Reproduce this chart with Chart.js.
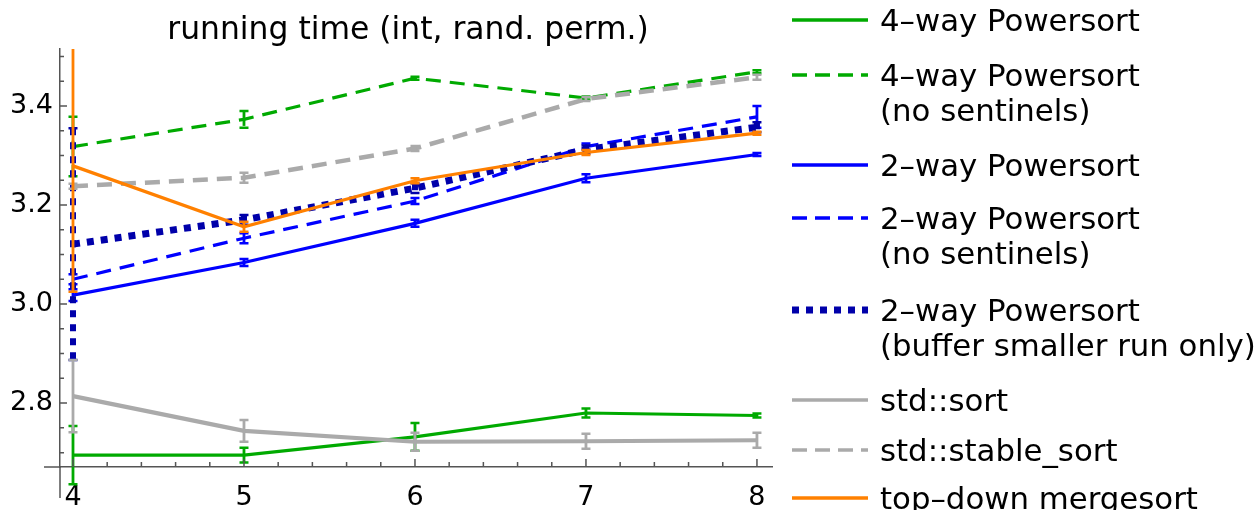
<!DOCTYPE html>
<html>
<head>
<meta charset="utf-8">
<script src="https://cdn.jsdelivr.net/npm/chart.js@4.4.1/dist/chart.umd.min.js"></script>
<style>
  body { margin: 0; background: #fff; font-family: "DejaVu Sans", sans-serif; }
  #wrap { position: relative; width: 1257px; height: 510px; overflow: hidden; }
  #title { position: absolute; left: 44px; width: 728px; top: 8px; text-align: center;
           font-size: 31.4px; line-height: 40px; color: #000; }
  .lgline { position: absolute; left: 792px; }
  .lgtext { position: absolute; left: 880px; font-size: 30.8px; line-height: 35px; color: #000; white-space: nowrap; }
</style>
</head>
<body>
<div id="wrap">
  <canvas id="chart" width="1257" height="510"></canvas>
  <div id="title">running time (int, rand. perm.)</div>
  <div id="legend"></div>
</div>
<script>
// x positions and tick labels
const xValues = [4, 5, 6, 7, 8];
const xTickLabels = [4, 5, 6, 7, 8];
const yTickLabels = [2.8, 3.0, 3.2, 3.4];

// series values, with error half-widths
const fourWay = [2.695, 2.695, 2.732, 2.780, 2.775];
const fourWayErr = [0.059, 0.015, 0.028, 0.009, 0.004];
const fourWayNoSent = [3.318, 3.373, 3.456, 3.416, 3.469];
const fourWayNoSentErr = [0.06, 0.017, 0.003, 0.003, 0.003];
const twoWay = [3.018, 3.084, 3.163, 3.254, 3.302];
const twoWayErr = [0.012, 0.007, 0.007, 0.008, 0.003];
const twoWayNoSent = [3.050, 3.133, 3.208, 3.318, 3.378];
const twoWayNoSentErr = [0.01, 0.01, 0.006, 0.006, 0.022];
const twoWayBuf = [3.121, 3.170, 3.234, 3.312, 3.357];
const twoWayBufErr = [0.234, 0.01, 0.01, 0.008, 0.01];
const stdSort = [2.814, 2.744, 2.722, 2.723, 2.725];
const stdSortErr = [0.073, 0.022, 0.018, 0.015, 0.015];
const stableSort = [3.238, 3.255, 3.314, 3.414, 3.458];
const stableSortErr = [0.005, 0.01, 0.005, 0.004, 0.005];
const topDown = [3.279, 3.156, 3.249, 3.306, 3.345];
const topDownErr = [0.254, 0.01, 0.005, 0.005, 0.003];

const GREEN = "#00aa00", BLUE = "#0000ff", DARKBLUE = "#0000aa", GREY = "#aaaaaa", ORANGE = "#ff8000";
const DASH = [15, 9], DOTS = [7, 7];

const series = [
  { label: ["4–way Powersort"], data: fourWay, err: fourWayErr, color: GREEN, dash: [], width: 3.2, ly: 20 },
  { label: ["4–way Powersort", "(no sentinels)"], data: fourWayNoSent, err: fourWayNoSentErr, color: GREEN, dash: DASH, width: 3.2, ly: 75 },
  { label: ["2–way Powersort"], data: twoWay, err: twoWayErr, color: BLUE, dash: [], width: 3.2, ly: 165 },
  { label: ["2–way Powersort", "(no sentinels)"], data: twoWayNoSent, err: twoWayNoSentErr, color: BLUE, dash: DASH, width: 3.2, ly: 218 },
  { label: ["2–way Powersort", "(buffer smaller run only)"], data: twoWayBuf, err: twoWayBufErr, color: DARKBLUE, dash: DOTS, width: 7, ly: 310 },
  { label: ["std::sort"], data: stdSort, err: stdSortErr, color: GREY, dash: [], width: 4.2, ly: 400 },
  { label: ["std::stable_sort"], data: stableSort, err: stableSortErr, color: GREY, dash: DASH, width: 4.5, ly: 450 },
  { label: ["top–down mergesort"], data: topDown, err: topDownErr, color: ORANGE, dash: [], width: 3.2, ly: 498 }
];

// error bars drawn right after each dataset, through the y scale
const errorBars = {
  id: "errorBars",
  afterDatasetDraw(chart, args) {
    const s = series[args.index];
    const { ctx, scales: { y } } = chart;
    ctx.save();
    ctx.beginPath();
    ctx.rect(44, chart.chartArea.top, 728, 498 - chart.chartArea.top);
    ctx.clip();
    ctx.strokeStyle = s.color;
    args.meta.data.forEach((pt, i) => {
      const top = y.getPixelForValue(s.data[i] + s.err[i]);
      const bot = y.getPixelForValue(s.data[i] - s.err[i]);
      ctx.lineWidth = s.dash === DOTS ? 6 : 2.8;
      ctx.setLineDash(s.dash);
      ctx.beginPath();
      ctx.moveTo(pt.x, top);
      ctx.lineTo(pt.x, bot);
      ctx.stroke();
      ctx.setLineDash([]);
      ctx.lineWidth = 2.5;
      ctx.beginPath();
      ctx.moveTo(pt.x - 4.5, top); ctx.lineTo(pt.x + 4.5, top);
      ctx.moveTo(pt.x - 4.5, bot); ctx.lineTo(pt.x + 4.5, bot);
      ctx.stroke();
    });
    ctx.restore();
  }
};

// inward tick marks plus the axis parts that run past the plot box
const axisMarks = {
  id: "axisMarks",
  afterDraw(chart) {
    const { ctx, chartArea: a, scales: { x, y } } = chart;
    ctx.save();
    ctx.strokeStyle = "#555";
    ctx.lineWidth = 1.5;
    ctx.beginPath();
    ctx.moveTo(44, a.bottom); ctx.lineTo(a.left, a.bottom);
    ctx.moveTo(a.left, a.bottom); ctx.lineTo(a.left, 498);
    for (let k = 20; k <= 40; k++) {
      const px = x.getPixelForValue(k / 5);
      const len = k % 5 === 0 ? 8 : 5;
      ctx.moveTo(px, a.bottom); ctx.lineTo(px, a.bottom - len);
    }
    for (let k = 54; k <= 70; k++) {
      const py = y.getPixelForValue(k / 20);
      const len = k % 4 === 0 ? 7 : 4;
      ctx.moveTo(a.left, py); ctx.lineTo(a.left + len, py);
    }
    ctx.stroke();
    ctx.restore();
  }
};

const ctx = document.getElementById("chart").getContext("2d");
new Chart(ctx, {
  type: "line",
  data: {
    datasets: series.map((s, i) => ({
      label: s.label.join(" "),
      data: xValues.map((xv, j) => ({ x: xv, y: s.data[j] })),
      borderColor: s.color,
      borderWidth: s.width,
      borderDash: s.dash,
      borderCapStyle: "butt",
      pointRadius: 0,
      tension: 0,
      fill: false,
      order: series.length - i
    }))
  },
  options: {
    responsive: false,
    animation: false,
    devicePixelRatio: 1,
    layout: { padding: { top: 49, right: 485, left: 0, bottom: 0 } },
    plugins: { legend: { display: false }, title: { display: false }, tooltip: { enabled: false } },
    scales: {
      x: {
        type: "linear",
        min: 3.924,
        max: 8.088,
        grid: { display: false, drawTicks: false },
        border: { display: true, color: "#555", width: 1.5 },
        afterBuildTicks: s => { s.ticks = xTickLabels.map(v => ({ value: v })); },
        afterFit: s => { s.height = 43; },
        ticks: { color: "#000", font: { family: "DejaVu Sans", size: 27 }, padding: 15, maxRotation: 0,
                 callback: v => String(v) }
      },
      y: {
        type: "linear",
        min: 2.671,
        max: 3.515,
        grid: { display: false, drawTicks: false },
        border: { display: true, color: "#555", width: 1.5 },
        afterBuildTicks: s => { s.ticks = yTickLabels.map(v => ({ value: v })); },
        afterFit: s => { s.width = 60; },
        ticks: { color: "#000", font: { family: "DejaVu Sans", size: 27 }, padding: 7,
                 callback: v => v.toFixed(1) }
      }
    }
  },
  plugins: [errorBars, axisMarks]
});

// legend built as html beside the plot
const legend = document.getElementById("legend");
series.forEach(s => {
  const svg = document.createElementNS("http://www.w3.org/2000/svg", "svg");
  svg.setAttribute("width", "76");
  svg.setAttribute("height", "14");
  svg.setAttribute("class", "lgline");
  svg.style.top = (s.ly - 7) + "px";
  const ln = document.createElementNS("http://www.w3.org/2000/svg", "line");
  ln.setAttribute("x1", "0"); ln.setAttribute("x2", "76");
  ln.setAttribute("y1", "7"); ln.setAttribute("y2", "7");
  ln.setAttribute("stroke", s.color);
  ln.setAttribute("stroke-width", s.dash === DOTS ? 7 : 3.5);
  if (s.dash.length) ln.setAttribute("stroke-dasharray", s.dash === DOTS ? "7 7" : "15 8");
  svg.appendChild(ln);
  legend.appendChild(svg);
  const t = document.createElement("div");
  t.className = "lgtext";
  t.style.top = (s.ly - 17.5) + "px";
  t.innerHTML = s.label.join("<br>");
  legend.appendChild(t);
});
</script>
</body>
</html>
